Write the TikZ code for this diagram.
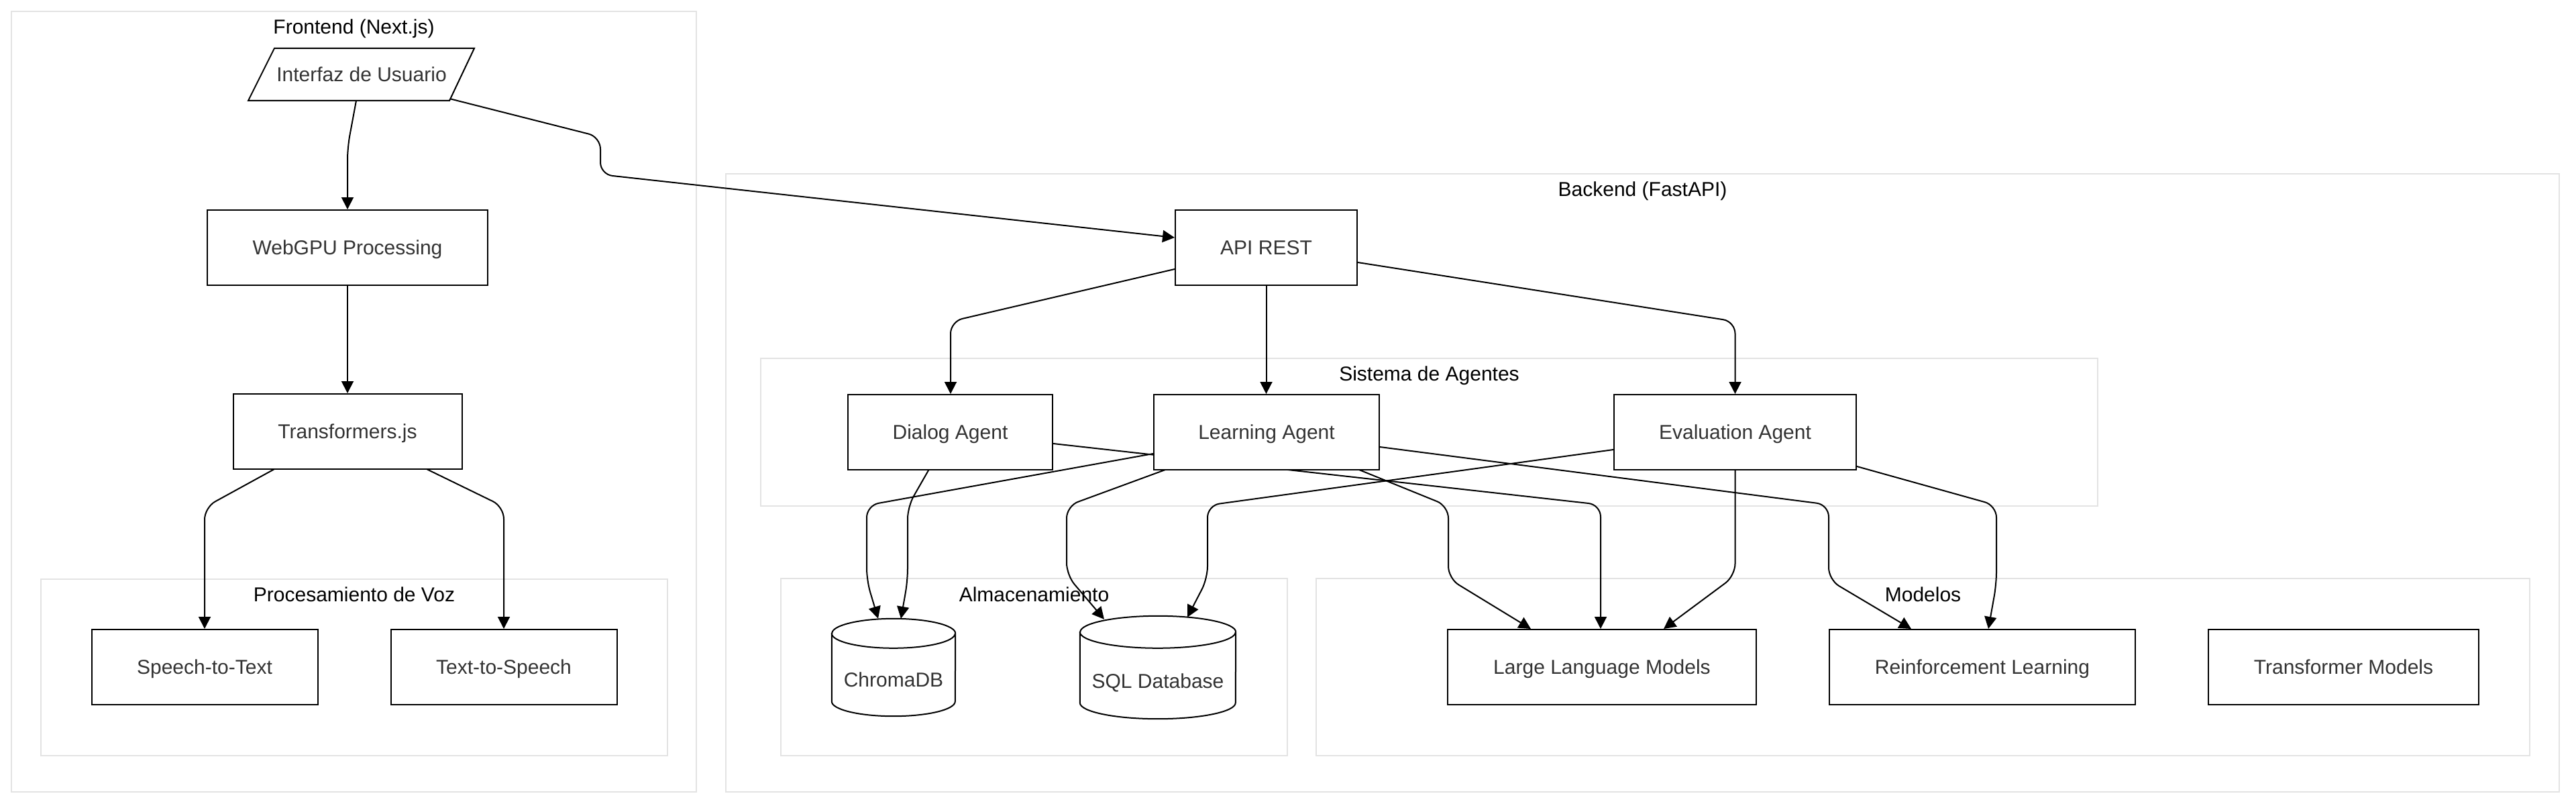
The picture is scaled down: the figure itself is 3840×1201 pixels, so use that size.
\documentclass[tikz,border=0pt]{standalone}
\usepackage{fontspec}
\setmainfont{Liberation Sans}
\usetikzlibrary{arrows.meta}
\pgfdeclarelayer{clusterlayer}
\pgfdeclarelayer{edgelayer}
\pgfsetlayers{clusterlayer,edgelayer,main}
\definecolor{nodetext}{HTML}{333333}
\definecolor{clusterline}{HTML}{E3E3E3}
\begin{document}
\begin{tikzpicture}[x=1pt,y=-1pt,font=\fontsize{30pt}{36pt}\selectfont,
  box/.style={draw=black,line width=2pt,fill=white,text=nodetext,text height=21.5pt,text depth=0pt,inner sep=0pt,minimum height=112pt},
  boxline/.style={draw=black,line width=2pt},
  cluster/.style={draw=clusterline,line width=2pt,fill=white},
  ctitle/.style={text=black,text height=21.5pt,text depth=0pt,inner sep=0pt},
  lbl/.style={text=nodetext,text height=21.5pt,text depth=0pt,inner sep=0pt},
  edge/.style={draw=black,line width=2pt,rounded corners=18pt,-{Triangle[width=18pt,length=18pt]}}]
\useasboundingbox (0,0) rectangle (3840,1201);

% clusters
\begin{pgfonlayer}{clusterlayer}
\fill[white] (0,0) rectangle (3840,1201);
\draw[cluster] (17,17) rectangle (1038,1180);
\node[ctitle] (tfront) at (527.5,40) {Frontend (Next.js)};
\draw[cluster] (61,863) rectangle (995,1126);
\node[ctitle] (tvoz) at (528,886) {Procesamiento de Voz};
\draw[cluster] (1082,259) rectangle (3815,1180);
\node[ctitle] (tback) at (2448.5,282) {Backend (FastAPI)};
\draw[cluster] (1134,534) rectangle (3127,754);
\node[ctitle] (tagent) at (2130.5,557) {Sistema de Agentes};
\draw[cluster] (1164,862) rectangle (1919,1126);
\node[ctitle] (talm) at (1541.5,886) {Almacenamiento};
\draw[cluster] (1962,862) rectangle (3771,1126);
\node[ctitle] (tmod) at (2866.5,886) {Modelos};
\end{pgfonlayer}

% frontend nodes
\draw[boxline,fill=white] (370,150) -- (409,72) -- (707,72) -- (670,150) -- cycle;
\node[lbl,minimum width=300pt,minimum height=78pt] (ui) at (539,111) {Interfaz de Usuario};
\node[box,minimum width=418pt] (webgpu) at (518,369) {WebGPU Processing};
\node[box,minimum width=341pt] (tjs) at (518,643) {Transformers.js};
\node[box,minimum width=337pt] (stt) at (305,994) {Speech-to-Text};
\node[box,minimum width=337pt] (tts) at (751,994) {Text-to-Speech};

% backend nodes
\node[box,minimum width=271pt] (api) at (1887.5,369) {API REST};
\node[box,minimum width=305pt] (dialog) at (1416.5,644) {Dialog Agent};
\node[box,minimum width=336pt] (learn) at (1888,644) {Learning Agent};
\node[box,minimum width=361pt] (evalag) at (2586.5,644) {Evaluation Agent};

% storage cylinders
\node[inner sep=0pt,minimum width=184pt,minimum height=145pt] (chroma) at (1332,994.5) {};
\draw[boxline,fill=white] ([shift={(0,22)}]chroma.north west) -- ([shift={(0,-22)}]chroma.south west)
  arc[start angle=180,end angle=360,x radius=92pt,y radius=22pt]
  -- ([shift={(0,22)}]chroma.north east)
  arc[start angle=0,end angle=180,x radius=92pt,y radius=22pt] -- cycle;
\draw[boxline] ([shift={(0,22)}]chroma.north west) arc[start angle=180,end angle=360,x radius=92pt,y radius=22pt];
\node[lbl] (chromalbl) at (1332,1013) {ChromaDB};

\node[inner sep=0pt,minimum width=232pt,minimum height=153pt] (sql) at (1726,994.5) {};
\draw[boxline,fill=white] ([shift={(0,24)}]sql.north west) -- ([shift={(0,-24)}]sql.south west)
  arc[start angle=180,end angle=360,x radius=116pt,y radius=24pt]
  -- ([shift={(0,24)}]sql.north east)
  arc[start angle=0,end angle=180,x radius=116pt,y radius=24pt] -- cycle;
\draw[boxline] ([shift={(0,24)}]sql.north west) arc[start angle=180,end angle=360,x radius=116pt,y radius=24pt];
\node[lbl] (sqllbl) at (1726,1015) {SQL Database};

% models
\node[box,minimum width=460pt] (llm) at (2388,994) {Large Language Models};
\node[box,minimum width=456pt] (rl) at (2955,994) {Reinforcement Learning};
\node[box,minimum width=403pt] (tm) at (3493.5,994) {Transformer Models};

% edges
\begin{pgfonlayer}{edgelayer}
\draw[edge] ([shift={(-8,39)}]ui.center) -- (518,220) -- (webgpu.north);
\draw[edge] (webgpu.south) -- (tjs.north);
\draw[edge] ([shift={(-109,56)}]tjs.center) -- (305,756) -- (stt.north);
\draw[edge] ([shift={(118,56)}]tjs.center) -- (751,755) -- (tts.north);
\draw[edge] ([shift={(131,36)}]ui.center) -- (895,204) -- (895,260) -- ([shift={(0,-15)}]api.west);
\draw[edge] ([shift={(0,32)}]api.west) -- (1417,479) -- ([shift={(0.5,0)}]dialog.north);
\draw[edge] (api.south) -- ([shift={(-0.5,0)}]learn.north);
\draw[edge] ([shift={(0,22)}]api.east) -- (2586.5,479) -- (evalag.north);
\draw[edge] ([shift={(-32,56)}]dialog.center) -- (1353,755) -- (1353,865) -- ([shift={(11,0)}]chroma.north);
\draw[edge] ([shift={(0,32)}]learn.west) -- (1292,753) -- (1292,865) -- ([shift={(-23,0)}]chroma.north);
\draw[edge] ([shift={(-151,56)}]learn.center) -- (1590,754) -- (1590,857) -- ([shift={(-80,5)}]sql.north);
\draw[edge] ([shift={(0,26)}]evalag.west) -- (1800,753) -- (1800,862) -- ([shift={(44,2)}]sql.north);
\draw[edge] ([shift={(0,17)}]dialog.east) -- (2386,752) -- ([shift={(-2,0)}]llm.north);
\draw[edge] ([shift={(138,56)}]learn.center) -- (2159,754) -- (2159,862) -- ([shift={(-106,0)}]llm.north);
\draw[edge] ([shift={(0,22)}]learn.east) -- (2726,752) -- (2726,864) -- ([shift={(-106,0)}]rl.north);
\draw[edge] (evalag.south) -- (2586.5,858) -- ([shift={(92,0)}]llm.north);
\draw[edge] ([shift={(0,51)}]evalag.east) -- (2976,753) -- (2976,870) -- ([shift={(9,0)}]rl.north);
\end{pgfonlayer}
\end{tikzpicture}
\end{document}
